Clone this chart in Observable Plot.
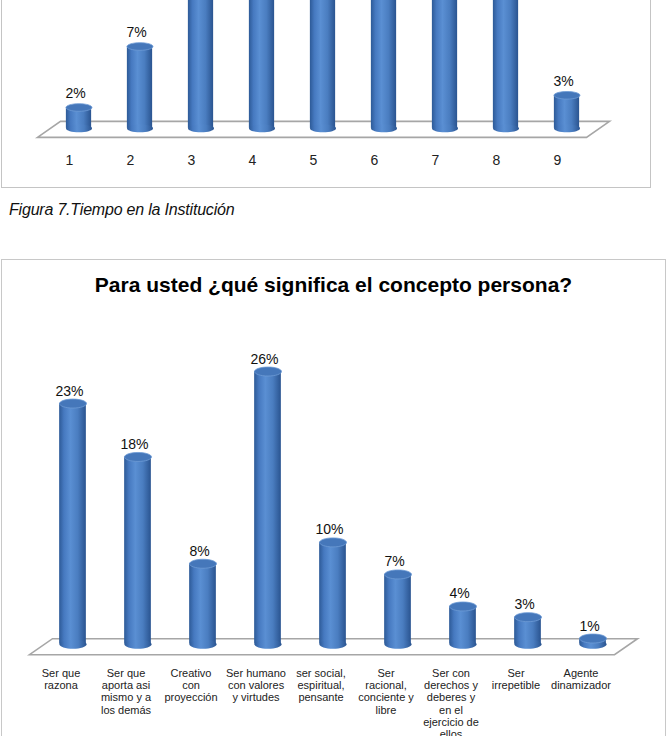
<!DOCTYPE html>
<html><head><meta charset="utf-8">
<script src="https://cdn.jsdelivr.net/npm/d3@7"></script>
<script src="https://cdn.jsdelivr.net/npm/@observablehq/plot@0.6"></script>
<style>
html,body{margin:0;padding:0;width:667px;height:736px;overflow:hidden;background:#fff;font-family:"Liberation Sans",Arial,sans-serif;}
body{position:relative;}
.abs{position:absolute;}
#box1{position:absolute;left:1px;top:-10px;width:650px;height:198px;border:1.5px solid #c4c4c4;box-sizing:border-box;}
#box2{position:absolute;left:1px;top:259px;width:665px;height:520px;border:1.5px solid #c8c8c8;box-sizing:border-box;}
#cap{position:absolute;left:9px;top:200px;font-size:16px;line-height:20px;font-style:italic;color:#111;letter-spacing:-0.2px;}
#title{position:absolute;left:0;top:273px;width:667px;text-align:center;font-size:21px;line-height:24px;font-weight:bold;color:#000;}
</style></head><body>
<svg width="0" height="0" style="position:absolute"><defs>
<linearGradient id="cyl" x1="0" x2="1" y1="0" y2="0">
<stop offset="0" stop-color="#2d5a97"/>
<stop offset="0.18" stop-color="#4679c0"/>
<stop offset="0.42" stop-color="#5a8fd3"/>
<stop offset="0.7" stop-color="#4a7dc0"/>
<stop offset="1" stop-color="#2a5490"/>
</linearGradient></defs></svg>
<div id="box1"></div>
<div id="chart1" class="abs" style="left:0;top:0;width:667px;height:186px;overflow:hidden"></div>
<div id="cap">Figura 7.Tiempo en la Institución</div>
<div id="box2"></div>
<div id="title">Para usted ¿qué significa el concepto persona?</div>
<div id="chart2" class="abs" style="left:0;top:300px;width:667px;height:436px;overflow:hidden"></div>
<script>
// Chart 1 (partially visible): Tiempo en la Institución
const tiempoCats = ["1","2","3","4","5","6","7","8","9"];
const tiempoVals = [2, 7, 13, 17, 15, 16, 14, 13, 3]; // 3–8 are cut off in the reference (estimated)

// Chart 2: Para usted ¿qué significa el concepto persona?
const personaCats = [
  "Ser que\nrazona",
  "Ser que\naporta asi\nmismo y a\nlos demás",
  "Creativo\ncon\nproyección",
  "Ser humano\ncon valores\ny virtudes",
  "ser social,\nespiritual,\npensante",
  "Ser\nracional,\nconciente y\nlibre",
  "Ser con\nderechos y\ndeberes y\nen el\nejercicio de\nellos",
  "Ser\nirrepetible",
  "Agente\ndinamizador"
];
const personaVals = [23, 18, 8, 26, 10, 7, 4, 3, 1];

function ellipse(rx, ry) {
  const k = 0.5523;
  return {draw(ctx) {
    ctx.moveTo(-rx, 0);
    ctx.bezierCurveTo(-rx, -ry*k, -rx*k, -ry, 0, -ry);
    ctx.bezierCurveTo(rx*k, -ry, rx, -ry*k, rx, 0);
    ctx.bezierCurveTo(rx, ry*k, rx*k, ry, 0, ry);
    ctx.bezierCurveTo(-rx*k, ry, -rx, ry*k, -rx, 0);
    ctx.closePath();
  }};
}

function floorMark(cats) {
  return (index, scales) => {
    const x = scales.x, y = scales.y;
    const r0 = x(cats[0]);
    const r1 = x(cats[cats.length-1]) + x.bandwidth();
    const y0 = y(0);
    const pts = [[r0-10.5, y0+6],[r1-10.5, y0+6],[r1+12.5, y0-10],[r0+12.5, y0-10]];
    const g = d3.create("svg:polygon")
      .attr("points", pts.map(p => p.join(",")).join(" "))
      .attr("fill", "#fff").attr("stroke", "#a6a6a6").attr("stroke-width", 1.6);
    return g.node();
  };
}

function cylChart({cats, vals, width, height, xRange, yDomain, yRange, barW, ry, base, labelDy, catDy, catDx, catSize, lineAnchor}) {
  const data = cats.map((c, i) => ({cat: c, value: vals[i]}));
  const step = (xRange[1]-xRange[0]) / cats.length;
  const inset = (step - barW) / 2;
  return Plot.plot({
    width, height,
    marginLeft: 0, marginRight: 0, marginTop: 0, marginBottom: 0,
    style: {fontFamily: "'Liberation Sans', Arial, sans-serif", background: "transparent", overflow: "hidden"},
    x: {type: "band", domain: cats, range: xRange, padding: 0, axis: null},
    y: {domain: yDomain, range: yRange, axis: null},
    marks: [
      floorMark(cats),
      Plot.barY(data, {x: "cat", y: "value", fill: "url(#cyl)", insetLeft: inset, insetRight: inset, insetBottom: base}),
      Plot.dot(data, {x: "cat", y: () => 0, dy: -base, symbol: ellipse(barW/2, ry), fill: "url(#cyl)", stroke: "none"}),
      Plot.dot(data, {x: "cat", y: "value", symbol: ellipse(barW/2, ry), fill: "#4577ba", stroke: "#6f9cd6", strokeWidth: 0.8}),
      // value labels: only those that fall inside the visible (uncropped) area
      Plot.text(data, {filter: d => d.value <= yDomain[1], x: "cat", y: "value", text: d => d.value + "%", dy: labelDy, dx: -3.5, fontSize: 14, fill: "#111"}),
      Plot.text(data, {x: "cat", y: () => 0, text: "cat", dy: catDy, dx: catDx, fontSize: catSize, fill: "#222", lineAnchor, lineHeight: 1.1})
    ]
  });
}

document.getElementById("chart1").append(cylChart({
  cats: tiempoCats, vals: tiempoVals, width: 667, height: 186,
  xRange: [45.1, 600.9], yDomain: [0, 10], yRange: [131.4, 9.4],
  barW: 26, ry: 3.8, base: 3.5, labelDy: -14, catDy: 28.6, catDx: -9.5, catSize: 14, lineAnchor: "middle"
}));

document.getElementById("chart2").append(cylChart({
  cats: personaCats, vals: personaVals, width: 667, height: 436,
  xRange: [38.85, 626.5], yDomain: [0, 30], yRange: [348.7, 28.3],
  barW: 27, ry: 4.5, base: 5, labelDy: -12.5, catDy: 19.5, catDx: -12, catSize: 11, lineAnchor: "top"
}));
</script>
</body></html>
